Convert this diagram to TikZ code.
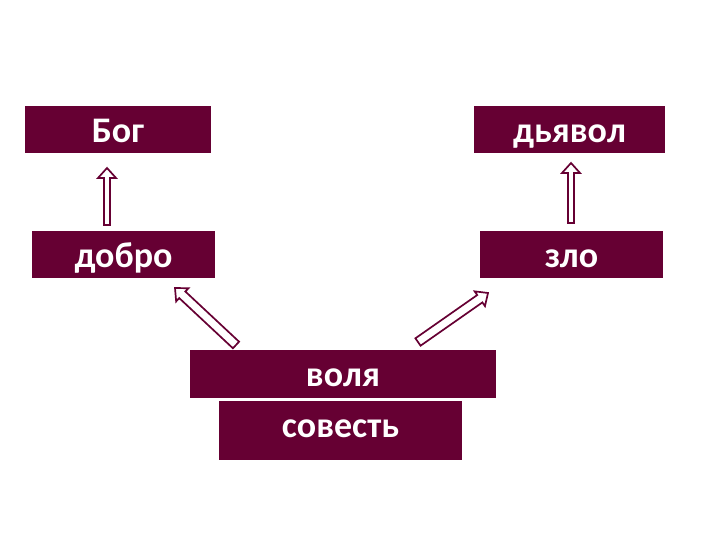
\documentclass[tikz,border=0pt]{standalone}
\usepackage{fontspec}
\setmainfont{Carlito}
\usepackage{tikz}
\usetikzlibrary{calc,positioning}
\definecolor{maroon}{RGB}{102,0,51}

\tikzset{
  box/.style={fill=maroon, text=white, inner sep=0pt, text height=36.5pt,
    text depth=10.5pt, font=\fontsize{36}{42}\selectfont\bfseries},
  hollow/.style={draw=maroon, fill=white, line width=1.7pt, line join=miter}
}
% hollow block arrow from #2 (base) to #3 (tip), shaft half width #1
\newcommand{\blockarrow}[3][3pt]{%
  \coordinate (neck) at ($(#3)!10pt!(#2)$);
  \draw[hollow] ($(#2)!#1!90:(#3)$) -- ($(neck)!#1!90:(#3)$)
    -- ($(neck)!9pt!90:(#3)$) -- (#3) -- ($(neck)!9pt!-90:(#3)$)
    -- ($(neck)!#1!-90:(#3)$) -- ($(#2)!#1!-90:(#3)$) -- cycle;
}

\begin{document}
\begin{tikzpicture}[x=1pt,y=1pt]
\useasboundingbox (0,0) rectangle (720,540);
\node[box, minimum width=186pt] (bog) at (118,410.5) {Бог};
\node[box, minimum width=191pt] (dyavol) at (569.5,410.5) {дьявол};
\node[box, minimum width=183pt] (dobro) at (123.5,285.5) {добро};
\node[box, minimum width=183pt] (zlo) at (571.5,285.5) {зло};
\node[box, minimum width=306pt, text depth=11.5pt] (volya) at (343,166) {воля};
\node[box, minimum width=243pt, text depth=22.5pt] (sovest) at (340.5,109.5) {совесть};

\coordinate (dobroBase) at (107,315);
\coordinate (bogTip) at (107,372);
\coordinate (zloBase) at (571,317);
\coordinate (dyavolTip) at (571,377);
\coordinate (volyaLeft) at (236,195);
\coordinate (dobroTip) at (175,252);
\coordinate (volyaRight) at (418,198);
\coordinate (zloTip) at (488,247);

\blockarrow{dobroBase}{bogTip}
\blockarrow{zloBase}{dyavolTip}
\blockarrow[4.5pt]{volyaLeft}{dobroTip}
\blockarrow[4.5pt]{volyaRight}{zloTip}
\end{tikzpicture}
\end{document}
